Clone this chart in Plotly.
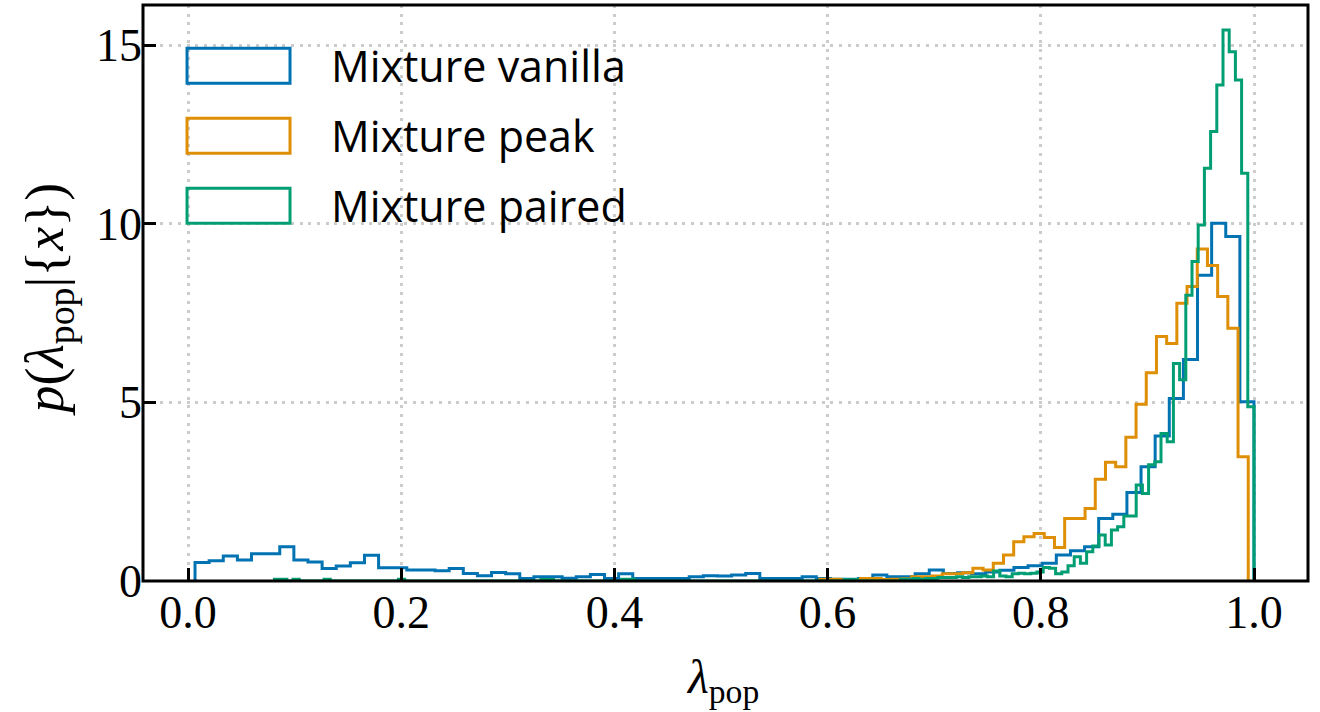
import numpy as np
import plotly.graph_objects as go

# Density-normalised posterior histograms of lambda_pop, one per mixture model.
# Each model has its own binning: (first edge, last edge) and one density per bin.
vanilla_range = (0.0066, 1.0)
vanilla_density = [
    0.52, 0.57, 0.70, 0.59, 0.76, 0.76, 0.96, 0.59, 0.53, 0.35,
    0.42, 0.51, 0.72, 0.37, 0.37, 0.31, 0.31, 0.29, 0.35, 0.21,
    0.15, 0.24, 0.20, 0.07, 0.12, 0.12, 0.08, 0.12, 0.18, 0.07,
    0.20, 0.07, 0.07, 0.07, 0.07, 0.12, 0.15, 0.14, 0.17, 0.21,
    0.07, 0.07, 0.07, 0.12, 0.07, 0.05, 0.05, 0.07, 0.17, 0.12,
    0.12, 0.20, 0.31, 0.21, 0.23, 0.20, 0.25, 0.30, 0.38, 0.43,
    0.50, 0.73, 0.85, 0.96, 1.75, 1.87, 2.48, 3.20, 4.06, 5.11,
    6.20, 8.56, 10.01, 9.64, 5.02,
]

peak_range = (0.5928, 0.9946)
peak_density = [
    0.05, 0.05, 0.03, 0.04, 0.07, 0.07, 0.04, 0.05, 0.06, 0.12,
    0.12, 0.14, 0.20, 0.20, 0.23, 0.36, 0.31, 0.50, 0.73, 1.10,
    1.24, 1.33, 1.22, 0.94, 1.75, 1.75, 2.03, 2.85, 3.32, 3.20,
    4.02, 4.95, 5.83, 6.84, 6.65, 7.77, 8.24, 9.29, 8.83, 7.96,
    7.07, 3.48,
]

paired_range = (0.0811, 1.0)
paired_density = [
    0.05, 0.05, 0, 0.05, 0, 0, 0, 0, 0.05, 0,
    0, 0, 0, 0, 0, 0, 0, 0, 0, 0,
    0.05, 0, 0, 0, 0, 0, 0, 0, 0, 0,
    0, 0, 0, 0, 0, 0, 0, 0, 0, 0,
    0, 0, 0, 0.04, 0.04, 0, 0, 0, 0, 0,
    0, 0, 0, 0, 0, 0, 0.05, 0.05, 0, 0,
    0, 0, 0, 0, 0, 0, 0, 0, 0, 0,
    0, 0, 0, 0, 0, 0, 0, 0, 0, 0,
    0, 0, 0, 0, 0, 0, 0, 0, 0, 0,
    0, 0, 0.04, 0.04, 0, 0, 0, 0, 0, 0,
    0, 0.05, 0.05, 0.07, 0.05, 0.07, 0.07, 0.10, 0.10, 0.10,
    0.12, 0.10, 0.12, 0.12, 0.14, 0.12, 0.28, 0.14, 0.12, 0.20,
    0.22, 0.20, 0.22, 0.25, 0.38, 0.36, 0.20, 0.25, 0.43, 0.68,
    0.50, 0.82, 0.98, 1.29, 1.01, 1.43, 1.52, 1.82, 1.82, 2.69,
    2.45, 3.25, 3.34, 4.13, 3.90, 6.09, 5.63, 8.00, 8.94, 9.96,
    11.55, 12.58, 13.88, 15.42, 14.81, 14.02, 11.41, 4.88,
]

series_names = ["Mixture vanilla", "Mixture peak", "Mixture paired"]
series_colors = ["#0173B2", "#DE8F05", "#029E73"]
x_ticks = [0.0, 0.2, 0.4, 0.6, 0.8, 1.0]
y_ticks = [0, 5, 10, 15]

SERIF = "Liberation Serif, Times New Roman, serif"
SANS = "Open Sans, Lato, sans-serif"


def step_outline(bin_range, density):
    """Outline of a step histogram: up from the baseline, across each bin, back down."""
    edges = np.linspace(bin_range[0], bin_range[1], len(density) + 1)
    xs = [edges[0]] + list(edges[:-1]) + [edges[-1]]
    ys = [0.0] + list(density) + [0.0]
    return xs, ys


fig = go.Figure()
for rng, dens, name, color in zip(
    [vanilla_range, peak_range, paired_range],
    [vanilla_density, peak_density, paired_density],
    series_names,
    series_colors,
):
    xs, ys = step_outline(rng, dens)
    fig.add_trace(go.Scatter(
        x=xs, y=ys, mode="lines", name=name,
        line=dict(color=color, width=3, shape="hv"),
        showlegend=False, hoverinfo="skip",
    ))

# Legend: outlined boxes with labels, top-left inside the axes
legend_rows = [(0.9248, 0.8641), (0.8033, 0.7425), (0.6818, 0.6210)]
for (top, bottom), name, color in zip(legend_rows, series_names, series_colors):
    fig.add_shape(type="rect", xref="paper", yref="paper",
                  x0=0.0378, x1=0.1262, y0=bottom, y1=top,
                  line=dict(color=color, width=3), fillcolor="rgba(0,0,0,0)",
                  layer="above")
    fig.add_annotation(xref="paper", yref="paper", x=0.160, y=(top + bottom) / 2,
                       text=name, showarrow=False, xanchor="left", yanchor="middle",
                       font=dict(family=SANS, size=43, color="black"))

# Axes frame drawn over the traces so empty bins sit under the spine
fig.add_shape(type="rect", xref="paper", yref="paper", x0=0, x1=1, y0=0, y1=1,
              line=dict(color="black", width=3), fillcolor="rgba(0,0,0,0)",
              layer="above")

# Axis titles
fig.add_annotation(xref="paper", yref="paper", x=0.497, y=-0.172,
                   text="<i>λ</i><sub>pop</sub>", showarrow=False,
                   xanchor="center", yanchor="middle",
                   font=dict(family=SERIF, size=48, color="black"))
fig.add_annotation(xref="paper", yref="paper", x=-0.081, y=0.488,
                   text="<i>p</i>(<i>λ</i><sub>pop</sub>|{<i>x</i>})",
                   showarrow=False, textangle=-90,
                   xanchor="center", yanchor="middle",
                   font=dict(family=SERIF, size=54, color="black"))

grid_style = dict(showgrid=True, gridcolor="#cccccc", gridwidth=2.5,
                  griddash="3px,5.7px", zeroline=False, showline=False,
                  ticks="inside", ticklen=13, tickwidth=3, tickcolor="black",
                  tickfont=dict(family=SERIF, size=46, color="black"))

fig.update_xaxes(range=[-0.04221, 1.05066], tickvals=x_ticks, tickformat=".1f",
                 **grid_style)
fig.update_yaxes(range=[0, 16.12], tickvals=y_ticks, **grid_style)

fig.update_layout(
    width=1320, height=712,
    margin=dict(l=143, r=12, t=5, b=131),
    plot_bgcolor="white", paper_bgcolor="white",
    showlegend=False,
)

fig.write_html("out.html")
